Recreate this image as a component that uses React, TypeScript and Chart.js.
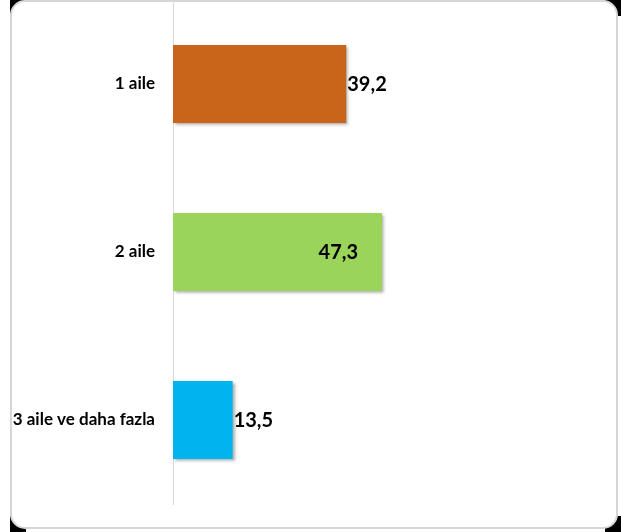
import React, { useEffect, useRef } from "react";
import { Chart, registerables } from "chart.js";

Chart.register(...registerables);

const categories = ["1 aile", "2 aile", "3 aile ve daha fazla"];
const values = [39.2, 47.3, 13.5];
const valueLabels = ["39,2", "47,3", "13,5"];
const barColors = ["#C9651A", "#9BD45B", "#00B4EF"];
const labelInside = [false, true, false];

const shadowPlugin = {
  id: "barShadow",
  beforeDatasetsDraw(chart: any) {
    const ctx = chart.ctx;
    ctx.save();
    ctx.shadowColor = "rgba(0,0,0,0.35)";
    ctx.shadowBlur = 3;
    ctx.shadowOffsetX = 2;
    ctx.shadowOffsetY = 2;
  },
  afterDatasetsDraw(chart: any) {
    chart.ctx.restore();
  },
};

const valueLabelPlugin = {
  id: "valueLabels",
  afterDraw(chart: any) {
    const ctx = chart.ctx;
    const meta = chart.getDatasetMeta(0);
    ctx.save();
    ctx.font = "bold 20px Lato";
    ctx.fillStyle = "#000";
    ctx.textBaseline = "middle";
    meta.data.forEach((bar: any, i: number) => {
      const txt = valueLabels[i];
      if (labelInside[i]) {
        ctx.textAlign = "right";
        ctx.fillText(txt, bar.x - 24, bar.y + 1);
      } else {
        ctx.textAlign = "left";
        ctx.fillText(txt, bar.x + 1, bar.y + 1);
      }
    });
    ctx.restore();
  },
};

export default function App() {
  const ref = useRef<HTMLCanvasElement>(null);
  useEffect(() => {
    const chart = new Chart(ref.current!, {
      type: "bar",
      data: {
        labels: categories,
        datasets: [
          {
            data: values,
            backgroundColor: barColors,
            borderWidth: 0,
            categoryPercentage: 0.93,
            barPercentage: 0.5,
          },
        ],
      },
      options: {
        indexAxis: "y",
        animation: false,
        responsive: false,
        maintainAspectRatio: false,
        layout: { autoPadding: false, padding: { left: 0, right: 6, top: 0, bottom: 28 } },
        plugins: { legend: { display: false }, tooltip: { enabled: false } },
        scales: {
          x: {
            display: false,
            min: 0,
            max: 100,
          },
          y: {
            grid: { display: false, drawTicks: false },
            border: { display: true, color: "#d9d9d9", width: 1 },
            ticks: {
              padding: 18,
              color: "#000",
              font: { family: "Lato", weight: "bold", size: 17 },
            },
            afterFit(scale: any) {
              scale.width = 173;
              scale.paddingTop = 0;
              scale.paddingBottom = 0;
            },
          },
        },
      },
      plugins: [shadowPlugin, valueLabelPlugin],
    });
    return () => chart.destroy();
  }, []);

  const corner = (pos: React.CSSProperties) => (
    <div style={{ position: "absolute", width: 16, height: 16, background: "#000", ...pos }} />
  );

  return (
    <div style={{ position: "relative", width: 621, height: 532, background: "#fff" }}>
      <style>{`body{margin:0}`}</style>
      {corner({ left: 10, top: 0 })}
      {corner({ left: 605, top: 0 })}
      {corner({ left: 10, top: 516 })}
      {corner({ left: 605, top: 516 })}
      <div
        style={{
          position: "absolute",
          left: 10,
          top: 0,
          width: 608,
          height: 529,
          boxSizing: "border-box",
          background: "#fff",
          border: "2px solid #d6d6d6",
          borderRadius: 15,
        }}
      />
      <canvas
        ref={ref}
        width={621}
        height={532}
        style={{ position: "absolute", left: 0, top: 0 }}
      />
    </div>
  );
}
